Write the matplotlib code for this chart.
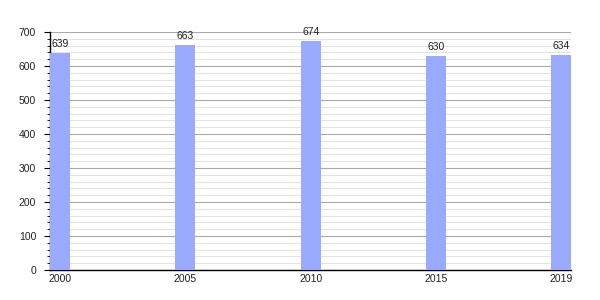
import matplotlib.pyplot as plt
from matplotlib.ticker import MultipleLocator

plt.rcParams["font.family"] = ["Liberation Sans", "DejaVu Sans"]

years = ["2000", "2005", "2010", "2015", "2019"]
values = [639, 663, 674, 630, 634]

BAR_COLOR = "#99aaff"
BAR_W = 0.16

fig = plt.figure(figsize=(6, 3), dpi=100)
ax = fig.add_axes([0.0833, 0.1, 0.869, 0.793])

x = list(range(len(years)))
ax.bar(x, values, width=BAR_W, align="edge", color=BAR_COLOR, zorder=3)

for xi, v in zip(x, values):
    ax.annotate(str(v), (xi + BAR_W / 2, v), xytext=(0, 2.5), textcoords="offset points",
                ha="center", va="bottom", fontsize=7.5, color="#222222", zorder=4)

ax.set_xlim(0, len(years) - 1 + BAR_W)
ax.set_ylim(0, 700)
ax.set_xticks([xi + BAR_W / 2 for xi in x])
ax.set_xticklabels(years)
ax.tick_params(axis="x", length=0, labelsize=7.5, pad=3, labelcolor="#222222")

ax.yaxis.set_major_locator(MultipleLocator(100))
ax.yaxis.set_minor_locator(MultipleLocator(20))
ax.tick_params(axis="y", which="major", length=4, labelsize=7.5, pad=6, labelcolor="#222222")
ax.tick_params(axis="y", which="minor", length=2)

ax.grid(axis="y", which="major", color="#aaaaaa", linewidth=0.8, zorder=0)
ax.grid(axis="y", which="minor", color="#dedede", linewidth=0.6, zorder=0)
ax.set_axisbelow(True)

for s in ["top", "right"]:
    ax.spines[s].set_visible(False)
ax.spines["left"].set_linewidth(1)
ax.spines["bottom"].set_linewidth(1)

fig.savefig("out.png", dpi=100)
